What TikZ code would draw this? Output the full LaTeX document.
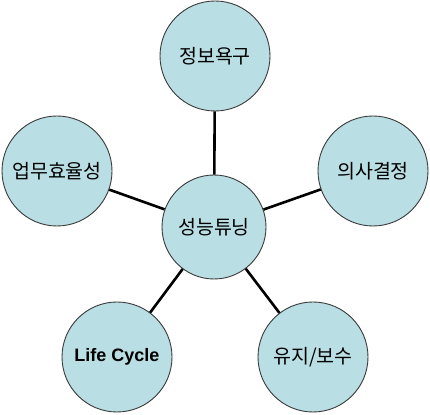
\documentclass[tikz,border=0pt]{standalone}
\usepackage{fontspec}
\newfontfamily\kr{Noto Sans CJK KR}
\newfontfamily\arial{Liberation Sans}
\definecolor{bubble}{HTML}{B9DEE3}
\definecolor{rim}{HTML}{3A3A3A}
\begin{document}
\begin{tikzpicture}[x=1pt,y=1pt,
  bub/.style={circle,draw=rim,line width=0.9pt,fill=bubble,minimum size=110pt,inner sep=0pt,font=\kr\fontsize{19.5}{22}\selectfont},
  link/.style={line width=2.6pt,black}]
\useasboundingbox[fill=white] (0,0) rectangle (430,414);
\node[bub,minimum size=104pt] (c) at (214,187) {성능튜닝};
\node[bub] (t) at (215,358) {정보욕구};
\node[bub] (r) at (373,243) {의사결정};
\node[bub] (l) at (57,243) {업무효율성};
\node[bub,font=\arial\bfseries\fontsize{18}{20}\selectfont] (bl) at (117,57) {Life Cycle};
\node[bub] (br) at (313,57) {유지/보수};
\draw[link] (c) -- (t);
\draw[link] (c) -- (r);
\draw[link] (c) -- (l);
\draw[link] (c) -- (bl);
\draw[link] (c) -- (br);
\end{tikzpicture}
\end{document}
